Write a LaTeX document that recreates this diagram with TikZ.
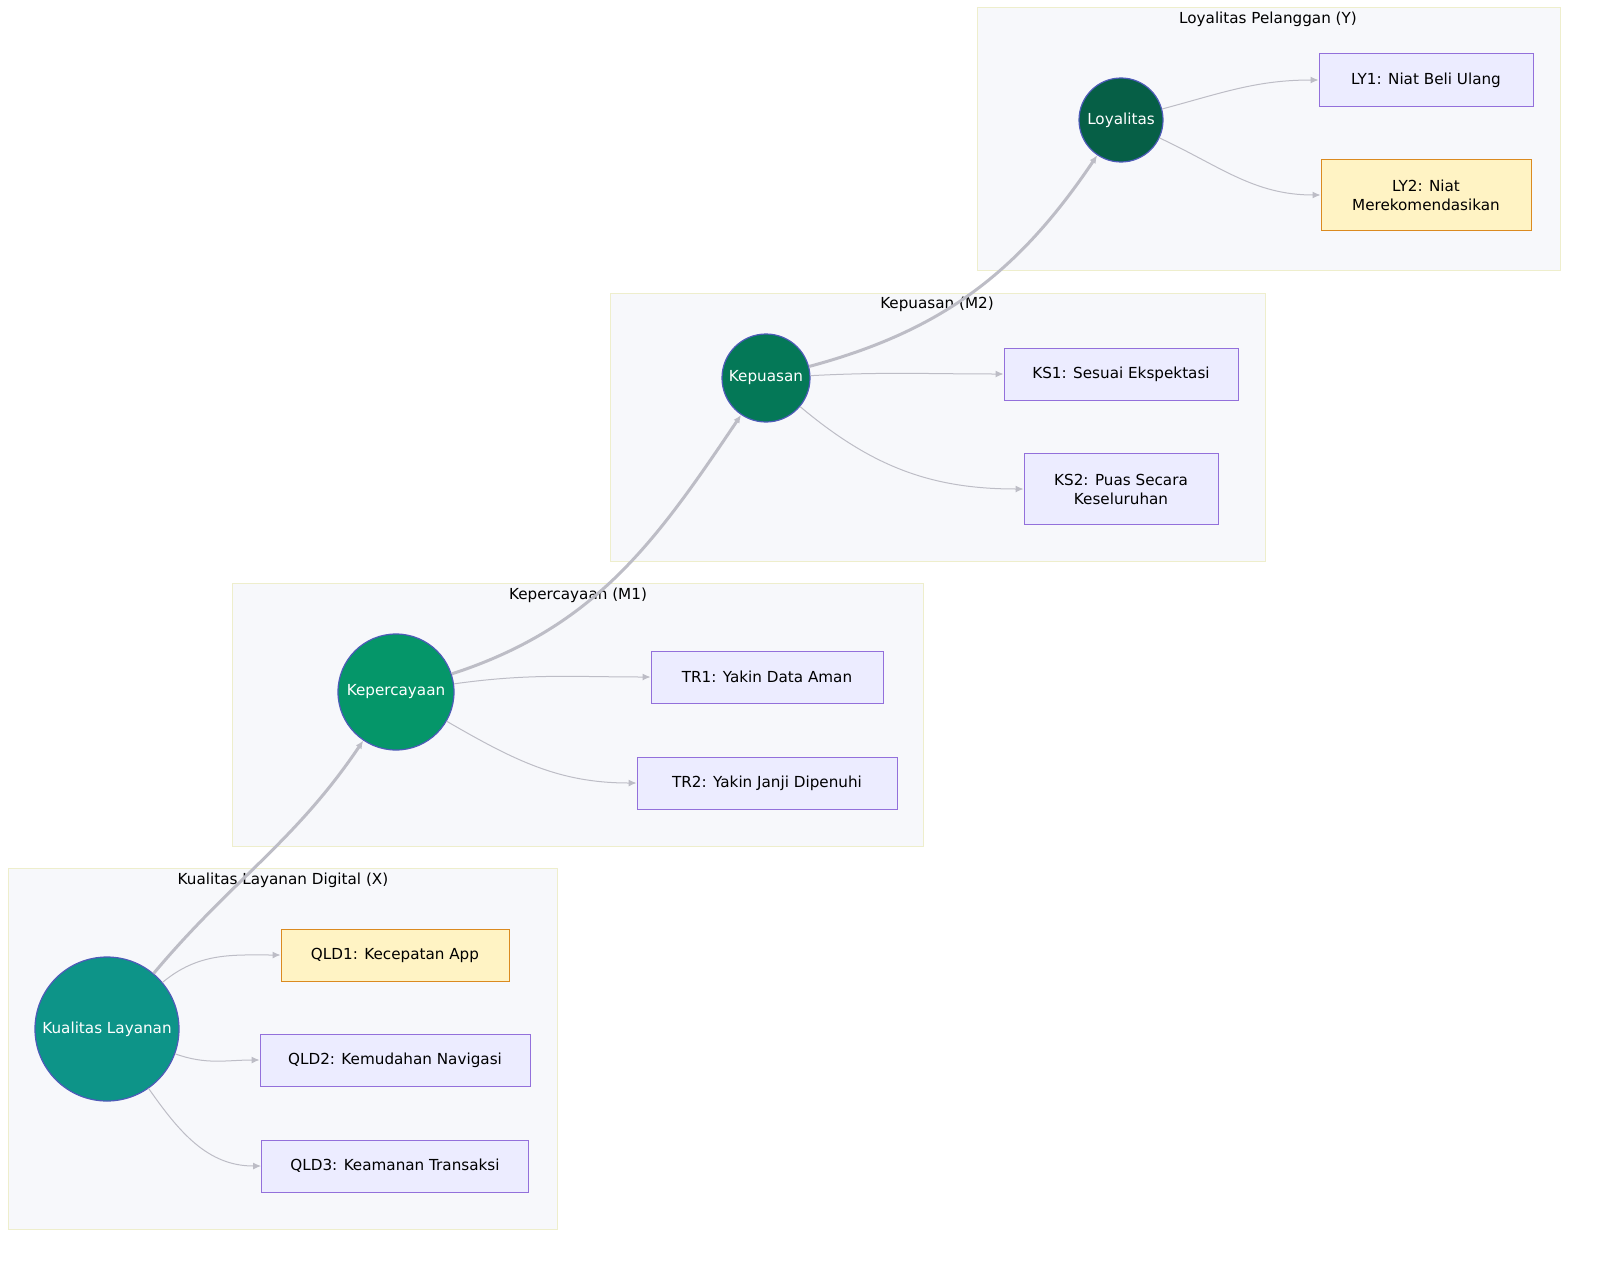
\documentclass[tikz,border=0pt]{standalone}
\usepackage{fontspec}
\setmainfont{DejaVu Sans}
\usetikzlibrary{arrows.meta}
\definecolor{clfill}{HTML}{F7F8FB}
\definecolor{cldraw}{HTML}{EEEECC}
\definecolor{boxfill}{HTML}{ECECFF}
\definecolor{boxdraw}{HTML}{9370DB}
\definecolor{hlfill}{HTML}{FFF3C4}
\definecolor{hldraw}{HTML}{DB8A1F}
\definecolor{edge}{HTML}{BDBDC6}
\definecolor{ringdraw}{HTML}{4E5BB8}
\tikzset{
  cluster/.style={fill=clfill, draw=cldraw, line width=0.5pt},
  ctitle/.style={font=\fontsize{7.6}{9}\selectfont, anchor=center},
  latent/.style={circle, draw=ringdraw, line width=0.6pt, text=white,
    font=\fontsize{7.6}{9}\selectfont, inner sep=0pt},
  item/.style={rectangle, draw=boxdraw, fill=boxfill, line width=0.5pt,
    font=\fontsize{7.6}{9.5}\selectfont, align=center, inner sep=0pt},
  hl/.style={item, draw=hldraw, fill=hlfill},
  link/.style={draw=edge, line width=0.5pt, -{Latex[length=4pt,width=3.5pt]}},
  path/.style={draw=edge, line width=1.5pt, -{Latex[length=4pt,width=3.5pt]}}
}
\begin{document}
\begin{tikzpicture}[x=0.5pt,y=-0.5pt]
\useasboundingbox (0,0) rectangle (1600,1263);
% clusters
\draw[cluster] (977,8) rectangle (1560,270);
\draw[cluster] (610,293) rectangle (1265,561);
\draw[cluster] (232,583) rectangle (923,846);
\draw[cluster] (8,868) rectangle (557,1229);
\node[ctitle] at (1268,19) {Loyalitas Pelanggan (Y)};
\node[ctitle] at (937,304) {Kepuasan (M2)};
\node[ctitle] at (578,595) {Kepercayaan (M1)};
\node[ctitle] at (283,880) {Kualitas Layanan Digital (X)};
% latent variables
\node[latent, fill={rgb,255:red,6;green,95;blue,70}, minimum size=42pt] (loy) at (1121,120) {Loyalitas};
\node[latent, fill={rgb,255:red,4;green,120;blue,87}, minimum size=44pt] (kep) at (766,378) {Kepuasan};
\node[latent, fill={rgb,255:red,5;green,150;blue,105}, minimum size=58pt] (per) at (396,692) {Kepercayaan};
\node[latent, fill={rgb,255:red,13;green,148;blue,136}, minimum size=72pt] (kual) at (107,1029) {Kualitas Layanan};
% indicators
\node[item, minimum width=107pt, minimum height=26.5pt] (ly1) at (1426,80) {LY1: Niat Beli Ulang};
\node[hl, minimum width=105pt, minimum height=35.5pt] (ly2) at (1426,195) {LY2: Niat\\Merekomendasikan};
\node[item, minimum width=117pt, minimum height=26pt] (ks1) at (1121,374) {KS1: Sesuai Ekspektasi};
\node[item, minimum width=97pt, minimum height=35.5pt] (ks2) at (1121,489) {KS2: Puas Secara\\Keseluruhan};
\node[item, minimum width=116pt, minimum height=26pt] (tr1) at (767,677) {TR1: Yakin Data Aman};
\node[item, minimum width=130pt, minimum height=26pt] (tr2) at (767,783) {TR2: Yakin Janji Dipenuhi};
\node[hl, minimum width=114pt, minimum height=26pt] (q1) at (395,955) {QLD1: Kecepatan App};
\node[item, minimum width=135pt, minimum height=26pt] (q2) at (395,1060) {QLD2: Kemudahan Navigasi};
\node[item, minimum width=133.5pt, minimum height=26pt] (q3) at (395,1166) {QLD3: Keamanan Transaksi};
% structural paths
\draw[path] (kual) to[out=50,in=236] (per);
\draw[path] (per) to[out=18,in=236] (kep);
\draw[path] (kep) to[out=15,in=236] (loy);
% measurement links
\draw[link] (loy) to[out=15,in=180] (ly1.west);
\draw[link] (loy) to[out=-25,in=180] (ly2.west);
\draw[link] (kep) to[out=3,in=180] (ks1.west);
\draw[link] (kep) to[out=-40,in=180] (ks2.west);
\draw[link] (per) to[out=8,in=180] (tr1.west);
\draw[link] (per) to[out=-30,in=180] (tr2.west);
\draw[link] (kual) to[out=40,in=180] (q1.west);
\draw[link] (kual) to[out=-20,in=180] (q2.west);
\draw[link] (kual) to[out=-55,in=180] (q3.west);
\end{tikzpicture}
\end{document}
